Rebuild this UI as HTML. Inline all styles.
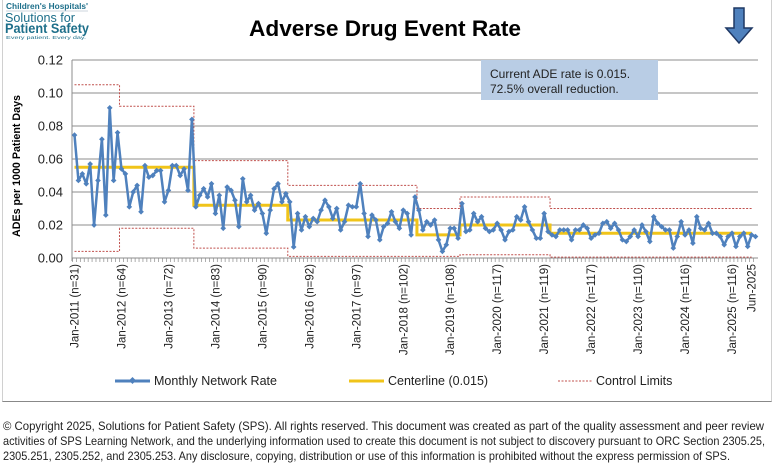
<!DOCTYPE html>
<html><head><meta charset="utf-8"><style>
html,body{margin:0;padding:0;background:#fff;}
body{width:772px;height:471px;overflow:hidden;position:relative;font-family:"Liberation Sans",sans-serif;}
svg text{font-family:"Liberation Sans",sans-serif;}
</style></head><body>
<div style="position:absolute;left:2px;top:0;width:768px;height:401px;border-left:1px solid #d0d0d0;border-right:1px solid #d0d0d0;border-bottom:1px solid #888;"></div>
<svg id="chart" width="772" height="471" style="position:absolute;left:0;top:0">
  <g>
    <text x="6" y="9" font-size="8" font-weight="bold" fill="#1d6f8a" textLength="82" lengthAdjust="spacingAndGlyphs">Children's Hospitals'</text>
    <line x1="6" y1="11" x2="88" y2="11" stroke="#9ab" stroke-width="0.5"/>
    <text x="5" y="22" font-size="13" fill="#1d6f8a" textLength="70" lengthAdjust="spacingAndGlyphs">Solutions for</text>
    <text x="5" y="33" font-size="14" font-weight="bold" fill="#1d6f8a" textLength="84" lengthAdjust="spacingAndGlyphs">Patient Safety</text>
    <text x="6" y="39" font-size="4.5" fill="#1d6f8a" textLength="80" lengthAdjust="spacingAndGlyphs">Every patient. Every day.</text>
  </g>
  <text x="385" y="36" text-anchor="middle" font-size="22" font-weight="bold" fill="#000" textLength="272" lengthAdjust="spacingAndGlyphs">Adverse Drug Event Rate</text>
  <polygon points="734,8 744,8 744,28 752,28 739,43 726,28 734,28" fill="#4f81bd" stroke="#1f3864" stroke-width="1.5"/>
  <g id="grid"></g>
  <g id="limits"></g>
  <g id="center"></g>
  <g id="series"></g>
  <g id="xlabels"></g>
  <rect x="481" y="60" width="177" height="40" fill="#b9cde5"/>
  <text x="490" y="78" font-size="12" fill="#222">Current  ADE rate is 0.015.</text>
  <text x="490" y="93" font-size="12" fill="#222">72.5% overall reduction.</text>
  <text transform="translate(20,166) rotate(-90)" text-anchor="middle" font-size="11" font-weight="bold" fill="#000" textLength="142" lengthAdjust="spacingAndGlyphs">ADEs per 1000 Patient Days</text>
  <g>
    <g>
      <line x1="115" y1="381" x2="150" y2="381" stroke="#4f81bd" stroke-width="3"/>
      <rect x="130" y="378" width="5" height="5" fill="#4f81bd" transform="rotate(45 132.5 380.5)"/>
      <text x="154" y="385" font-size="12.5" fill="#222">Monthly Network Rate</text>
    </g>
    <g>
      <line x1="349" y1="381" x2="384" y2="381" stroke="#f0c419" stroke-width="3"/>
      <text x="388" y="385" font-size="12.5" fill="#222">Centerline (0.015)</text>
    </g>
    <g>
      <line x1="558" y1="381" x2="592" y2="381" stroke="#c0504d" stroke-width="1" stroke-dasharray="2,1.5"/>
      <text x="596" y="385" font-size="12.5" fill="#222">Control Limits</text>
    </g>
  </g>
  <g font-size="12" fill="#222">
    <text x="3" y="430" textLength="761" lengthAdjust="spacingAndGlyphs">© Copyright 2025, Solutions for Patient Safety (SPS).  All rights reserved.  This document was created as part of the quality assessment and peer review</text>
    <text x="3" y="445" textLength="762" lengthAdjust="spacingAndGlyphs">activities of SPS Learning Network, and the underlying information used to create this document is not subject to discovery pursuant to ORC Section 2305.25,</text>
    <text x="3" y="460" textLength="727" lengthAdjust="spacingAndGlyphs">2305.251, 2305.252, and 2305.253. Any disclosure, copying, distribution or use of this information is prohibited without the express permission of SPS.</text>
  </g>
</svg>
<script>
const rates = [0.0745,0.047,0.051,0.045,0.057,0.020,0.047,0.072,0.026,0.091,0.047,0.076,0.054,0.051,0.031,0.040,0.044,0.028,0.056,0.049,0.050,0.053,0.053,0.034,0.041,0.056,0.056,0.050,0.054,0.041,0.084,
0.031,0.038,0.042,0.037,0.045,0.027,0.038,0.018,0.043,0.041,0.035,0.019,0.048,
0.034,0.038,0.029,0.033,0.027,0.015,0.029,0.042,0.045,0.034,0.039,0.034,0.0067,0.027,0.017,0.025,0.019,0.024,0.022,0.029,0.035,0.031,0.024,0.030,0.017,0.022,0.032,0.031,0.031,0.045,0.027,0.013,0.026,0.023,0.011,0.019,0.021,0.028,0.022,0.018,0.029,0.027,0.014,0.037,0.029,
0.017,0.022,0.020,0.023,0.011,0.004,0.008,0.018,0.018,0.012,0.033,0.016,0.017,0.027,0.022,0.025,0.018,0.016,0.017,0.021,0.017,0.011,0.016,0.017,0.025,0.023,0.031,0.022,0.017,0.012,0.012,0.027,0.016,0.014,0.013,0.017,0.017,0.017,0.011,0.017,0.017,0.020,0.018,0.012,
0.014,0.015,0.021,0.022,0.018,0.021,0.017,0.011,0.010,0.013,0.017,0.013,0.020,0.016,0.010,0.025,0.021,0.019,0.017,0.017,0.006,0.013,0.022,0.014,0.017,0.009,0.025,0.018,0.017,0.021,0.015,0.015,0.013,0.008,0.013,0.015,0.007,0.013,0.015,0.007,0.014,0.013];
const segStart = [0,12,31,55,88,99,122];
const segEnd   = [11,30,54,87,98,121,173];
const centerVals = [0.055,0.055,0.032,0.023,0.014,0.020,0.015];
const uclVals = [0.105,0.092,0.059,0.044,0.030,0.037,0.030];
const lclVals = [0.004,0.018,0.006,0.001,0.001,0.002,0.0005];
const yTicks = [0,0.02,0.04,0.06,0.08,0.10,0.12];
const xLabelIdx = [0,12,24,36,48,60,72,84,96,108,120,132,144,156,168,173];
const xLabels = ["Jan-2011 (n=31)","Jan-2012 (n=64)","Jan-2013 (n=72)","Jan-2014 (n=83)","Jan-2015 (n=90)","Jan-2016 (n=92)","Jan-2017 (n=97)","Jan-2018 (n=102)","Jan-2019 (n=108)","Jan-2020 (n=117)","Jan-2021 (n=119)","Jan-2022 (n=117)","Jan-2023 (n=110)","Jan-2024 (n=116)","Jan-2025 (n=116)","Jun-2025"];

const NS="http://www.w3.org/2000/svg";
const L=72,R=758,T=60,B=258;
const n=rates.length;
const xs=i=>L+2.5+i*(R-L-5)/(n-1);
const ys=v=>B-(v/0.12)*(B-T);
function mk(tag,attrs,parent){const e=document.createElementNS(NS,tag);for(const k in attrs)e.setAttribute(k,attrs[k]);parent.appendChild(e);return e;}
const grid=document.getElementById('grid');
yTicks.forEach(v=>{
  const ln=mk('line',{x1:L,x2:R,y1:ys(v),y2:ys(v),stroke:'#8c8c8c','stroke-width':1},grid);
  
  
  const t=mk('text',{x:63,y:ys(v)+4.5,'text-anchor':'end','font-size':13,fill:'#222'},grid);
  t.textContent=v.toFixed(2);
  
  
});
const ax=mk('line',{x1:L,x2:L,y1:T,y2:B+3,stroke:'#8c8c8c'},grid);


for(let i=0;i<n;i++){const x=xs(i)-2;const tk=mk('line',{x1:x,x2:x,y1:B,y2:B+4,stroke:'#8c8c8c','stroke-width':0.7},grid);
  
  }
function stepPath(vals){let d='';for(let s=0;s<segStart.length;s++){const a=xs(segStart[s])-(s?2:0),b=xs(segEnd[s])+(s<segStart.length-1?2:0);d+=(s?'L':'M')+a+','+ys(vals[s])+'L'+b+','+ys(vals[s]);}return d;}
const lim=document.getElementById('limits');
const u=mk('path',{d:stepPath(uclVals),fill:'none',stroke:'#c0504d','stroke-width':1,'stroke-dasharray':'2,1.5'},lim);


const lo=mk('path',{d:stepPath(lclVals),fill:'none',stroke:'#c0504d','stroke-width':1,'stroke-dasharray':'2,1.5'},lim);


const c=mk('path',{d:stepPath(centerVals),fill:'none',stroke:'#f0c419','stroke-width':3},document.getElementById('center'));


const ser=document.getElementById('series');
const p=mk('polyline',{points:rates.map((v,i)=>xs(i)+','+ys(v)).join(' '),fill:'none',stroke:'#4f81bd','stroke-width':2.5,'stroke-linejoin':'round'},ser);


rates.forEach((v,i)=>{const x=xs(i),y=ys(v);
  const m=mk('rect',{x:x-2,y:y-2,width:4,height:4,fill:'#4f81bd',transform:'rotate(45 '+x+' '+y+')'},ser);
  
  });
const xl=document.getElementById('xlabels');
xLabelIdx.forEach((idx,k)=>{const x=xs(idx)+4;
  const t=mk('text',{transform:'translate('+x+',264) rotate(-90)','text-anchor':'end','font-size':11.5,fill:'#222'},xl);
  t.textContent=xLabels[k];
  
  });
</script>
</body></html>
